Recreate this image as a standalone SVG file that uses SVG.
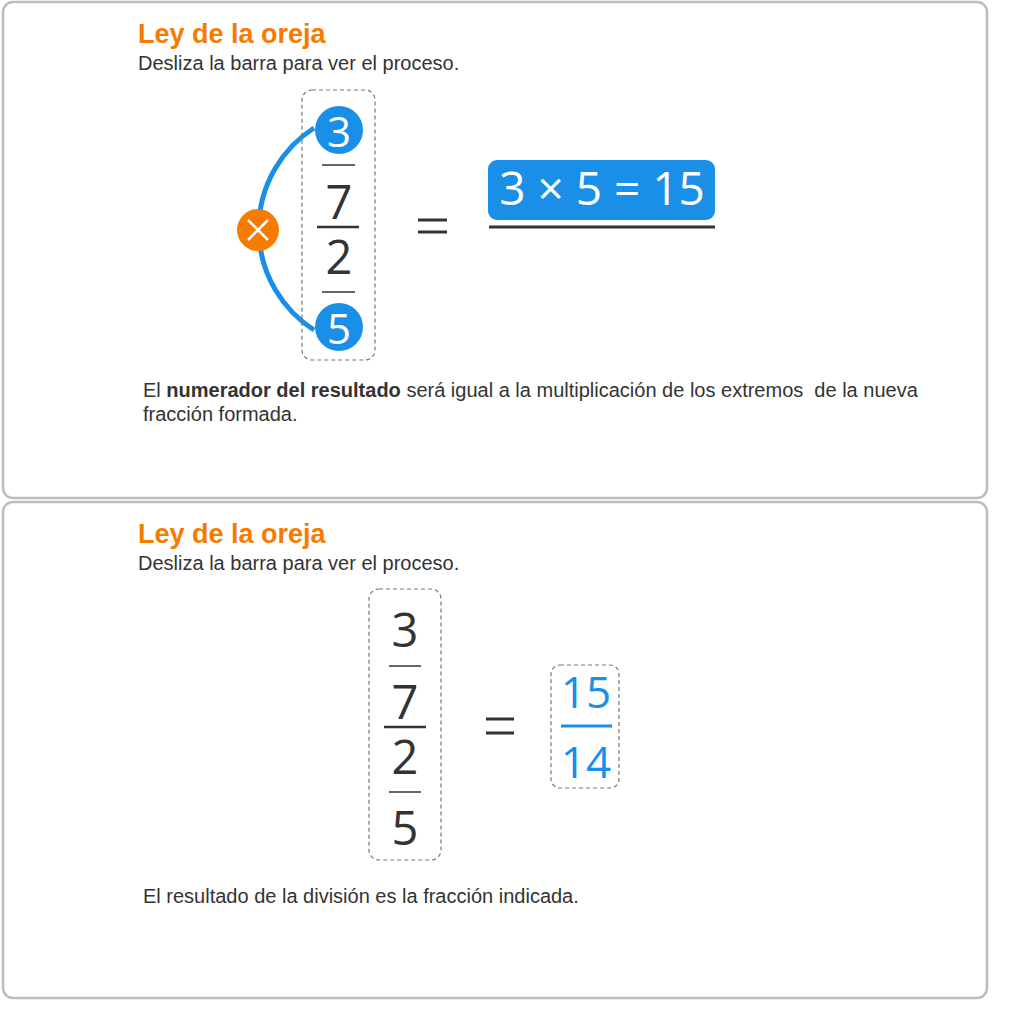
<svg xmlns="http://www.w3.org/2000/svg" width="1024" height="1024" viewBox="0 0 1024 1024">
<style>
.panel{fill:#fff;stroke:#bdbdbd;stroke-width:2.5}
.title{font-family:"Liberation Sans",Arial,sans-serif;font-weight:bold;font-size:27px;fill:#f77b00}
.sub{font-family:"Liberation Sans",Arial,sans-serif;font-size:20px;fill:#333}
.num{font-family:"Open Sans",sans-serif;fill:#333;text-anchor:middle}
.dash{fill:none;stroke:#777;stroke-width:1.2;stroke-dasharray:4 3}
.bar{stroke:#333}
</style>
<rect fill="#fff" width="1024" height="1024"/>
<g id="panel1">
<rect class="panel" x="3" y="2" width="984" height="496" rx="10"/>
<text class="title" x="138" y="43">Ley de la oreja</text>
<text class="sub" x="138" y="70">Desliza la barra para ver el proceso.</text>
</g>
<g id="connectors">
<path d="M314,128 A120,120 0 0 0 314,330" fill="none" stroke="#1a8fe8" stroke-width="5"/>
</g>
<g id="fraction1">
<rect class="dash" x="302" y="90" width="73" height="270" rx="10"/>
<line class="bar" x1="322" y1="165" x2="355" y2="165" stroke-width="1.5"/>
<text class="num" x="339" y="219" font-size="47">7</text>
<line class="bar" x1="317" y1="227" x2="359" y2="227" stroke-width="2.5"/>
<text class="num" x="339" y="274" font-size="47">2</text>
<line class="bar" x1="322" y1="292" x2="355" y2="292" stroke-width="1.5"/>
</g>
<g id="node3">
<circle cx="339" cy="130" r="24" fill="#1a8fe8"/>
<text class="num" x="339" y="147" font-size="42" style="fill:#fff">3</text>
</g>
<g id="node5">
<circle cx="339" cy="327" r="24" fill="#1a8fe8"/>
<text class="num" x="339" y="344" font-size="42" style="fill:#fff">5</text>
</g>
<g id="times">
<circle cx="258" cy="230" r="21" fill="#f77b00"/>
<path d="M248,220 L268,240 M268,220 L248,240" stroke="#fff" stroke-width="2.5"/>
</g>
<g id="equals1">
<line class="bar" x1="418" y1="220" x2="447" y2="220" stroke-width="3"/>
<line class="bar" x1="418" y1="232" x2="447" y2="232" stroke-width="3"/>
</g>
<g id="result1">
<rect x="488" y="160" width="227" height="60" rx="9" fill="#1a8fe8"/>
<text class="num" x="602" y="205" font-size="46" style="fill:#fff">3 × 5 = 15</text>
<line class="bar" x1="489" y1="227" x2="715" y2="227" stroke-width="3"/>
</g>
<g id="text1">
<text class="sub" x="143" y="397">El <tspan font-weight="bold">numerador del resultado</tspan> será igual a la multiplicación de los extremos&#160; de la nueva</text>
<text class="sub" x="143" y="421">fracción formada.</text>
</g>
<g id="panel2">
<rect class="panel" x="3" y="502" width="984" height="496" rx="10"/>
<text class="title" x="138" y="543">Ley de la oreja</text>
<text class="sub" x="138" y="570">Desliza la barra para ver el proceso.</text>
</g>
<g id="fraction2">
<rect class="dash" x="369" y="589" width="72" height="271" rx="10"/>
<text class="num" x="405" y="647" font-size="47">3</text>
<line class="bar" x1="389" y1="666" x2="421" y2="666" stroke-width="1.5"/>
<text class="num" x="405" y="719" font-size="47">7</text>
<line class="bar" x1="384" y1="727" x2="426" y2="727" stroke-width="2.5"/>
<text class="num" x="405" y="774" font-size="47">2</text>
<line class="bar" x1="389" y1="792" x2="421" y2="792" stroke-width="1.5"/>
<text class="num" x="405" y="845" font-size="47">5</text>
</g>
<g id="equals2">
<line class="bar" x1="486" y1="719" x2="514" y2="719" stroke-width="3"/>
<line class="bar" x1="486" y1="733" x2="514" y2="733" stroke-width="3"/>
</g>
<g id="result2">
<rect class="dash" x="551" y="665" width="68" height="123" rx="9"/>
<text class="num" x="586" y="708" font-size="44" style="fill:#1a8fe8">15</text>
<line x1="561" y1="726" x2="612" y2="726" stroke="#1a8fe8" stroke-width="3"/>
<text class="num" x="586" y="778" font-size="44" style="fill:#1a8fe8">14</text>
</g>
<g id="text2">
<text class="sub" x="143" y="903">El resultado de la división es la fracción indicada.</text>
</g>
</svg>
